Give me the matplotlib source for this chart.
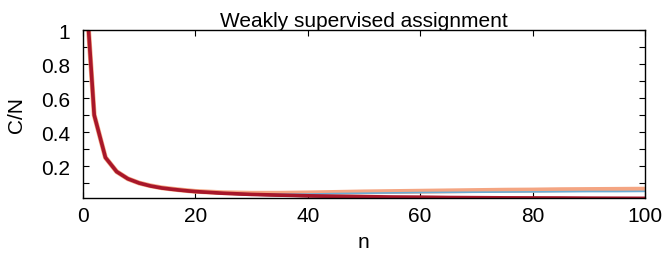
import matplotlib
matplotlib.use('Agg')
import matplotlib.pyplot as plt
from matplotlib.ticker import MultipleLocator

# Data
n = [1, 2, 4, 6, 8, 10, 12, 14, 16, 18, 20, 25, 30, 35, 40, 45, 50,
     55, 60, 65, 70, 75, 80, 85, 90, 95, 100]

salmon = [1.0, 0.5, 0.25, 0.167, 0.125, 0.1, 0.084, 0.072, 0.064, 0.057, 0.051,
          0.043, 0.040, 0.040, 0.042, 0.045, 0.048, 0.050, 0.052, 0.054, 0.056,
          0.058, 0.059, 0.061, 0.062, 0.063, 0.064]
blue = [1.0, 0.5, 0.25, 0.167, 0.125, 0.1, 0.083, 0.071, 0.063, 0.056, 0.050,
        0.041, 0.036, 0.034, 0.035, 0.038, 0.040, 0.042, 0.044, 0.045, 0.046,
        0.047, 0.048, 0.049, 0.050, 0.050, 0.051]
darkest = [1.0, 0.5, 0.25, 0.166, 0.124, 0.099, 0.082, 0.070, 0.061, 0.054, 0.048,
           0.038, 0.031, 0.026, 0.022, 0.019, 0.016, 0.014, 0.012, 0.011, 0.010,
           0.009, 0.009, 0.008, 0.008, 0.008, 0.008]
darkred = [1.0, 0.5, 0.25, 0.167, 0.125, 0.1, 0.083, 0.071, 0.063, 0.056, 0.05,
           0.04, 0.033, 0.029, 0.025, 0.022, 0.020, 0.018, 0.017, 0.015, 0.014,
           0.013, 0.0125, 0.012, 0.011, 0.0105, 0.010]

y_ticks = [0.2, 0.4, 0.6, 0.8, 1.0]
y_ticklabels = ['0.2', '0.4', '0.6', '0.8', '1']

plt.rcParams['font.family'] = ['Liberation Sans', 'DejaVu Sans']
fs = 15

fig = plt.figure(figsize=(6.69, 2.55), dpi=100)
ax = fig.add_axes([0.124, 0.2196, 0.840, 0.6588])

ax.plot(n, salmon, color='#f4a582', lw=3.5, solid_capstyle='butt')
ax.plot(n, blue, color='#6baed6', lw=1.2)
ax.plot(n, darkest, color='#67001f', lw=1.5)
ax.plot(n, darkred, color='#a8172a', lw=2.6)

ax.set_xlim(0, 100)
ax.set_ylim(0.012, 1.0)
ax.xaxis.set_major_locator(MultipleLocator(20))
ax.set_yticks(y_ticks)
ax.set_yticklabels(y_ticklabels)
ax.yaxis.set_minor_locator(MultipleLocator(0.1))

ax.tick_params(which='both', direction='in', top=True, right=True,
               length=4.5, width=0.8, labelsize=fs)
ax.tick_params(axis='y', pad=9)
ax.tick_params(axis='x', pad=6)
for s in ax.spines.values():
    s.set_linewidth(1.0)

ax.set_title('Weakly supervised assignment', fontsize=fs, pad=3)
ax.set_xlabel('n', fontsize=fs, labelpad=5)
ax.set_ylabel('C/N', fontsize=fs, labelpad=11)

fig.savefig('out.png', dpi=100)
